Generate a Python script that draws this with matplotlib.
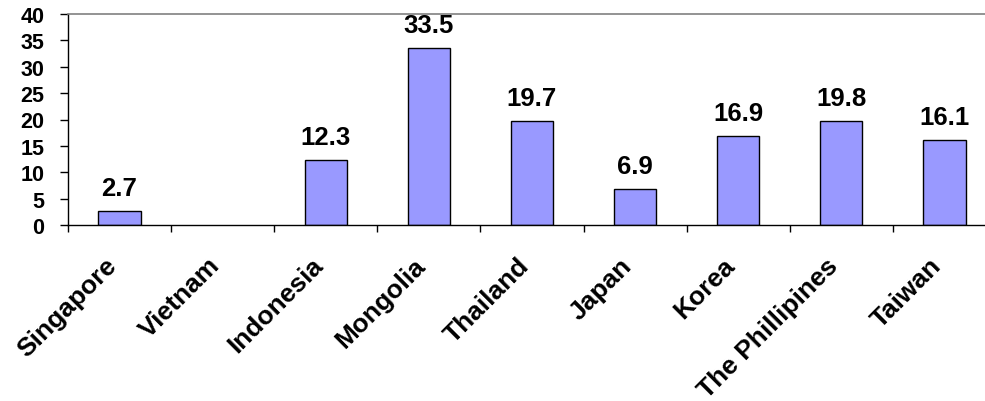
import matplotlib as mpl
import matplotlib.pyplot as plt
from matplotlib.transforms import ScaledTranslation
import numpy as np

mpl.rcParams['font.family'] = ['Liberation Sans', 'DejaVu Sans']
mpl.rcParams['font.weight'] = 'bold'

# ------- DATA ------- #
countries = ['Singapore', 'Vietnam', 'Indonesia', 'Mongolia', 'Thailand',
             'Japan', 'Korea', 'The Phillipines', 'Taiwan']
values = [2.7, np.nan, 12.3, 33.5, 19.7, 6.9, 16.9, 19.8, 16.1]
y_ticks = [0, 5, 10, 15, 20, 25, 30, 35, 40]

bar_color = '#9999FF'

fig = plt.figure(figsize=(9.85, 4.02), dpi=100)
ax = fig.add_axes([68/985, 1 - 226/402, 928/985, 211/402])

x = np.arange(len(countries))
ax.bar(x, values, width=0.41, color=bar_color, edgecolor='black', lw=1.0)

# annotate bars
for xi, v in zip(x, values):
    if np.isnan(v):
        continue
    ax.annotate(f'{v:.1f}', (xi, v), xytext=(0, 11.5), textcoords='offset points',
                ha='center', va='baseline', fontsize=18.5, fontweight='bold')

ax.set_xlim(-0.5, len(countries) - 0.5)
ax.set_ylim(0, 40)

# spines
ax.spines['right'].set_visible(False)
ax.spines['top'].set_color('#808080')
ax.spines['top'].set_linewidth(1.2)
for s in ['left', 'bottom']:
    ax.spines[s].set_color('black')
    ax.spines[s].set_linewidth(1.0)

# ticks
ax.set_yticks(y_ticks)
ax.tick_params(axis='y', which='major', direction='out', length=6, width=1.0,
               pad=11, labelsize=15.5)
ax.set_xticks(x)
ax.set_xticklabels(countries, rotation=45, ha='right', va='top',
                   rotation_mode='anchor', fontsize=19, fontweight='bold')
ax.tick_params(axis='x', which='major', length=0, pad=20)
ax.set_xticks(np.arange(len(countries) + 1) - 0.5, minor=True)
ax.tick_params(axis='x', which='minor', direction='out', length=5, width=1.0)
shift = ScaledTranslation(-11/72, 0, fig.dpi_scale_trans)
for lbl in ax.get_xticklabels():
    lbl.set_transform(lbl.get_transform() + shift)

fig.savefig('out.png', dpi=100)
